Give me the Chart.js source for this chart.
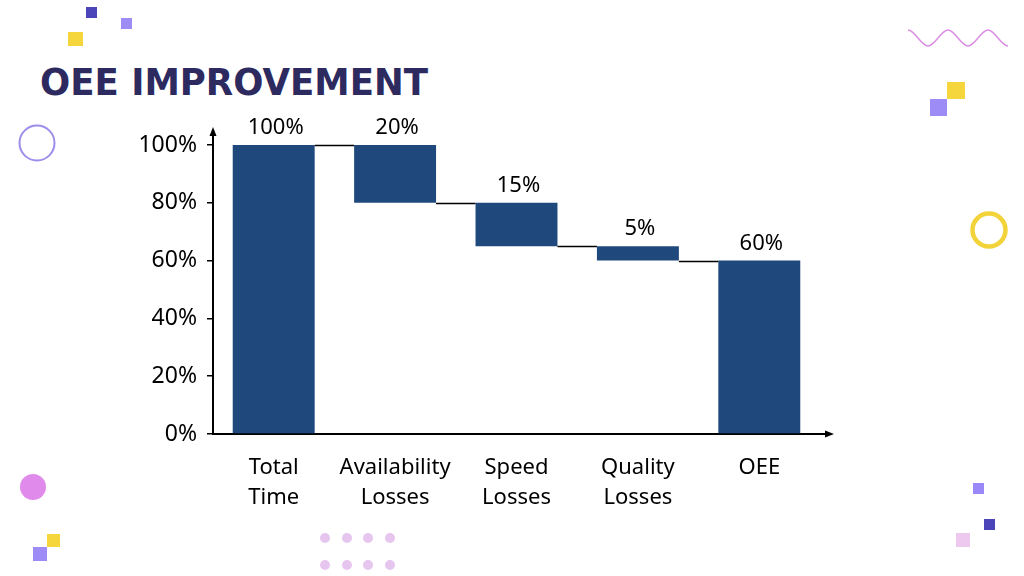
<!DOCTYPE html>
<html>
<head>
<meta charset="utf-8">
<script src="https://cdn.jsdelivr.net/npm/chart.js@4.4.1/dist/chart.umd.min.js"></script>
<style>
  html, body { margin: 0; padding: 0; background: #ffffff; }
  #wrap { position: relative; width: 1024px; height: 576px; overflow: hidden; background: #ffffff; }
  #deco { position: absolute; left: 0; top: 0; }
  #c { position: absolute; left: 0; top: 0; }
</style>
</head>
<body>
<div id="wrap">
  <svg id="deco" width="1024" height="576" xmlns="http://www.w3.org/2000/svg">
    <!-- top-left squares -->
    <rect x="86" y="7" width="11" height="11" fill="#4C45B9"/>
    <rect x="121" y="18" width="11" height="11" fill="#9D8CF6"/>
    <rect x="68" y="32" width="15" height="14" fill="#F5D63C"/>
    <!-- outline circle left -->
    <circle cx="37" cy="143" r="17.5" fill="none" stroke="#9E8DEA" stroke-width="2"/>
    <!-- pink circle -->
    <circle cx="33" cy="487" r="13" fill="#E08AEB"/>
    <!-- bottom-left squares -->
    <rect x="47" y="534" width="13" height="13" fill="#F5D63C"/>
    <rect x="33" y="547" width="14" height="14" fill="#9D8CF6"/>
    <!-- dots -->
    <g fill="#E6C6EE">
      <circle cx="325" cy="538" r="5"/><circle cx="347" cy="538" r="5"/><circle cx="368" cy="538" r="5"/><circle cx="390" cy="538" r="5"/>
      <circle cx="325" cy="565" r="5"/><circle cx="347" cy="565" r="5"/><circle cx="368" cy="565" r="5"/><circle cx="390" cy="565" r="5"/>
    </g>
    <!-- wave top-right -->
    <path d="M908,30 C915,30 921,46 928,46 C935,46 941,30 948,30 C955,30 961,46 968,46 C975,46 981,30 988,30 C995,30 1001,46 1008,46"
          fill="none" stroke="#D98BE0" stroke-width="1.4"/>
    <!-- right squares -->
    <rect x="947" y="82" width="18" height="17" fill="#F5D63C"/>
    <rect x="930" y="99" width="17" height="17" fill="#9D8CF6"/>
    <!-- yellow ring -->
    <circle cx="989" cy="230" r="16.5" fill="none" stroke="#F3D33A" stroke-width="4.5"/>
    <!-- bottom-right squares -->
    <rect x="973" y="483" width="11" height="11" fill="#9A88F8"/>
    <rect x="984" y="519" width="11" height="11" fill="#4C45B9"/>
    <rect x="956" y="533" width="14" height="14" fill="#EDC9F0"/>
    <!-- title -->
    <text x="40" y="95" font-family="DejaVu Sans" font-weight="bold" font-size="37" fill="#2D2A5F" textLength="388" lengthAdjust="spacingAndGlyphs">OEE IMPROVEMENT</text>
  </svg>
  <canvas id="c" width="1024" height="576"></canvas>
</div>
<script>
// ---- data ----
const categories = [["Total", "Time"], ["Availability", "Losses"], ["Speed", "Losses"], ["Quality", "Losses"], ["OEE"]];
const barStart = [0, 80, 65, 60, 0];
const barEnd = [100, 100, 80, 65, 60];
const barLabels = ["100%", "20%", "15%", "5%", "60%"];
const yTickStep = 20;
const yMax = 100;

const barColor = "#1F497D";
const FONT = "'Noto Sans', 'DejaVu Sans', sans-serif";

const waterfallExtras = {
  id: "waterfallExtras",
  afterDatasetsDraw(chart) {
    const ctx = chart.ctx;
    const meta = chart.getDatasetMeta(0);
    const ys = chart.scales.y;
    ctx.save();
    // connector lines
    ctx.strokeStyle = "#000";
    ctx.lineWidth = 1.3;
    for (let i = 0; i < meta.data.length - 1; i++) {
      const a = meta.data[i], b = meta.data[i + 1];
      const lvl = Math.max(barStart[i + 1], barEnd[i + 1]);
      const py = Math.round(ys.getPixelForValue(lvl)) + 0.5;
      ctx.beginPath();
      ctx.moveTo(a.x + a.width / 2, py);
      ctx.lineTo(b.x - b.width / 2, py);
      ctx.stroke();
    }
    // value labels
    ctx.fillStyle = "#000";
    ctx.font = "22px " + FONT;
    ctx.textAlign = "center";
    ctx.textBaseline = "middle";
    meta.data.forEach((el, i) => {
      const top = Math.min(el.y, el.base);
      ctx.fillText(barLabels[i], el.x + 2, top - 17);
    });
    ctx.restore();
  },
  afterDraw(chart) {
    const ctx = chart.ctx;
    const ca = chart.chartArea;
    ctx.save();
    ctx.strokeStyle = "#000";
    ctx.fillStyle = "#000";
    ctx.lineWidth = 2;
    // y axis extension + arrow
    ctx.beginPath();
    ctx.moveTo(ca.left, ca.top + 1);
    ctx.lineTo(ca.left, ca.top - 12);
    ctx.stroke();
    ctx.beginPath();
    ctx.moveTo(ca.left, ca.top - 18);
    ctx.lineTo(ca.left - 3.5, ca.top - 9);
    ctx.lineTo(ca.left + 3.5, ca.top - 9);
    ctx.closePath();
    ctx.fill();
    // x axis extension + arrow
    ctx.beginPath();
    ctx.moveTo(ca.right - 1, ca.bottom);
    ctx.lineTo(ca.right + 8, ca.bottom);
    ctx.stroke();
    ctx.beginPath();
    ctx.moveTo(ca.right + 14, ca.bottom);
    ctx.lineTo(ca.right + 5, ca.bottom - 3.5);
    ctx.lineTo(ca.right + 5, ca.bottom + 3.5);
    ctx.closePath();
    ctx.fill();
    ctx.restore();
  }
};

new Chart(document.getElementById("c"), {
  type: "bar",
  data: {
    labels: categories,
    datasets: [{
      data: barStart.map((s, i) => [s, barEnd[i]]),
      backgroundColor: barColor,
      borderWidth: 0,
      barPercentage: 0.675,
      categoryPercentage: 1.0
    }]
  },
  options: {
    responsive: false,
    animation: false,
    devicePixelRatio: 1,
    layout: { padding: { left: 133, top: 145, right: 204, bottom: 42 } },
    plugins: { legend: { display: false }, tooltip: { enabled: false }, title: { display: false } },
    scales: {
      x: {
        afterFit(s) { s.height = 100; },
        grid: { display: false },
        border: { display: true, color: "#000", width: 2 },
        ticks: { color: "#000", font: { family: FONT, size: 22, lineHeight: 1.36 }, padding: 11, maxRotation: 0, autoSkip: false }
      },
      y: {
        afterFit(s) { s.width = 80; },
        min: 0,
        max: yMax,
        grid: { drawOnChartArea: false, drawTicks: true, tickLength: 6, color: "#000", lineWidth: 1.5 },
        border: { display: true, color: "#000", width: 2 },
        ticks: { stepSize: yTickStep, color: "#000", font: { family: FONT, size: 23 }, padding: 10, callback: v => v + "%" }
      }
    }
  },
  plugins: [waterfallExtras]
});
</script>
</body>
</html>
